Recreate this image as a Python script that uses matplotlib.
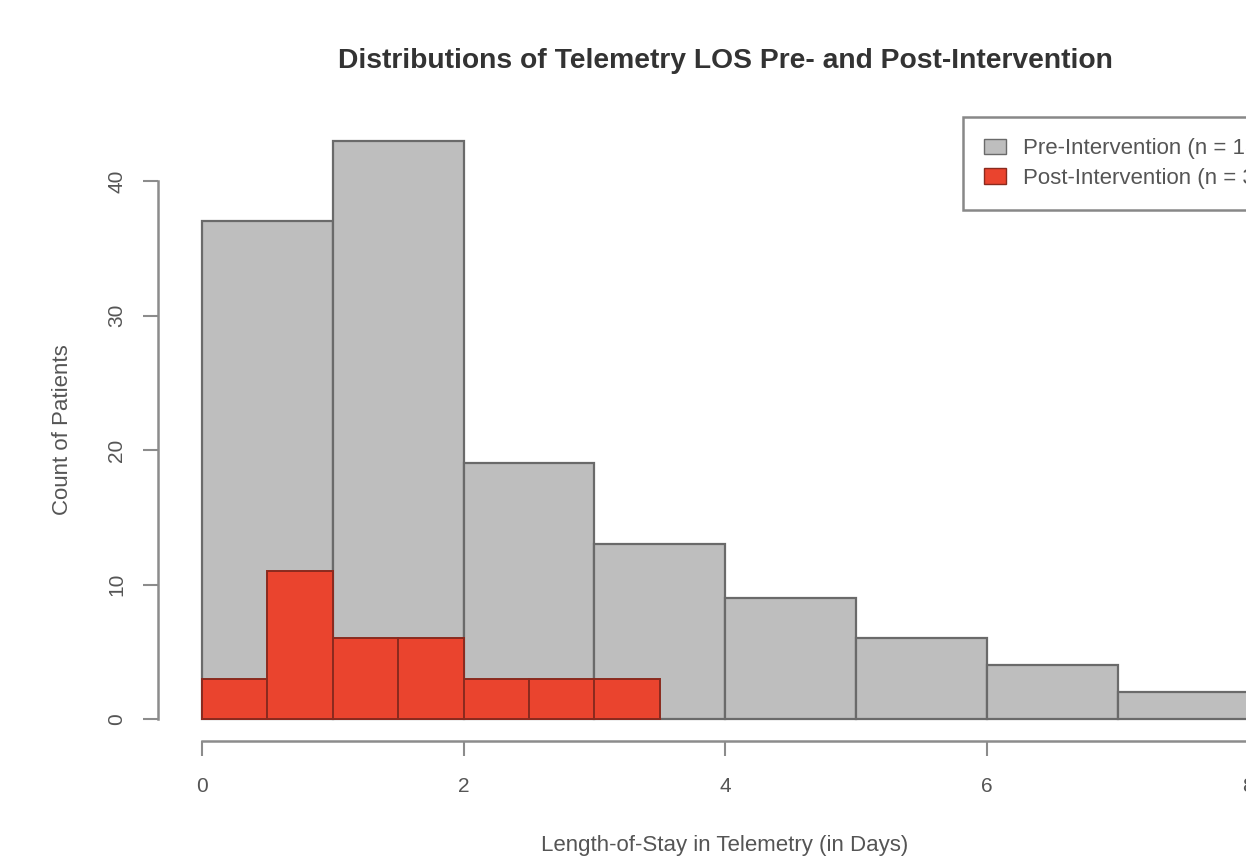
import matplotlib
matplotlib.use('Agg')
from matplotlib import pyplot as plt
from matplotlib.patches import Patch

plt.rcParams['font.family'] = ['Liberation Sans', 'DejaVu Sans']

# histogram bins and counts
pre_edges = [0, 1, 2, 3, 4, 5, 6, 7]
pre_counts = [37, 43, 19, 13, 9, 6, 4, 2]
post_edges = [0, 0.5, 1, 1.5, 2, 2.5, 3]
post_counts = [3, 11, 6, 6, 3, 3, 3]

pre_label = 'Pre-Intervention (n = 133)'
post_label = 'Post-Intervention (n = 35)'

x_ticks = [0, 2, 4, 6, 8]
y_ticks = [0, 10, 20, 30, 40]

W, H = 1246, 857
fig = plt.figure(figsize=(W / 100, H / 100), dpi=100)

# axes laid out in pixels, running past the right edge (the reference is cropped)
px_per_x = 130.8
px_per_y = 13.45
x0_px, y0_px = 202, 719
xlo, xhi = -0.4, 9.4
ylo, yhi = -2.5, 45
left = (x0_px + px_per_x * xlo) / W
width = px_per_x * (xhi - xlo) / W
bottom = (H - (y0_px - px_per_y * ylo)) / H
height = px_per_y * (yhi - ylo) / H
ax = fig.add_axes([left, bottom, width, height])
ax.set_xlim(xlo, xhi)
ax.set_ylim(ylo, yhi)

gray = '#bebebe'
red = '#ea442e'
ax.bar(pre_edges, pre_counts, width=1, align='edge', color=gray,
       edgecolor='#6a6a6a', linewidth=1.6)
ax.bar(post_edges, post_counts, width=0.5, align='edge', color=red,
       edgecolor='#8a2a1e', linewidth=1.4)

axis_col = '#8c8c8c'
text_col = '#555555'
for s in ['top', 'right']:
    ax.spines[s].set_visible(False)
ax.spines['left'].set_position(('data', (158 - x0_px) / px_per_x))
ax.spines['left'].set_bounds(0, 40)
ax.spines['bottom'].set_position(('data', (y0_px - 741) / px_per_y))
ax.spines['bottom'].set_bounds(0, 8)
for s in ['left', 'bottom']:
    ax.spines[s].set_color(axis_col)
    ax.spines[s].set_linewidth(1.8)

ax.set_xticks(x_ticks)
ax.set_yticks(y_ticks)
ax.set_yticklabels([str(v) for v in y_ticks], rotation=90, va='center')
ax.tick_params(axis='both', length=11, width=1.5, color=axis_col,
               labelcolor=text_col, labelsize=15)
ax.tick_params(axis='x', pad=15)
ax.tick_params(axis='y', pad=12)

fig.text(725 / W, 1 - 61 / H, 'Distributions of Telemetry LOS Pre- and Post-Intervention',
         ha='center', va='center', fontsize=20.3, fontweight='bold', color='#333333')
fig.text(725 / W, 1 - 845 / H, 'Length-of-Stay in Telemetry (in Days)',
         ha='center', va='center', fontsize=16, color=text_col)
fig.text(62 / W, 1 - 430 / H, 'Count of Patients', rotation=90,
         ha='center', va='center', fontsize=16, color=text_col)

handles = [Patch(facecolor=gray, edgecolor='#6a6a6a'),
           Patch(facecolor=red, edgecolor='#8a2a1e')]
leg = fig.legend(handles, [pre_label, post_label], loc='upper left',
                 bbox_to_anchor=(963 / W, 1 - 117 / H), bbox_transform=fig.transFigure,
                 borderaxespad=0, fancybox=False, framealpha=1, edgecolor='#888888',
                 fontsize=16, handlelength=1.0, handleheight=0.7,
                 labelspacing=0.4, handletextpad=0.75, borderpad=0.95)
leg.get_frame().set_linewidth(1.8)
for t in leg.get_texts():
    t.set_color(text_col)

fig.savefig('out.png', dpi=100)
